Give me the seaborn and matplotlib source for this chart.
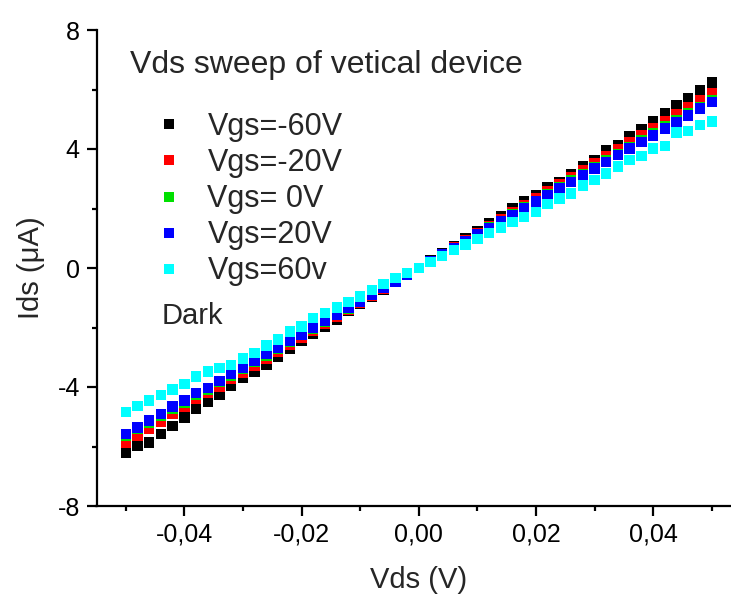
import numpy as np
import pandas as pd
import matplotlib
matplotlib.use("Agg")
import matplotlib.pyplot as plt
from matplotlib.lines import Line2D
from matplotlib.ticker import MultipleLocator, FixedLocator
import seaborn as sns

# ---------------- data ----------------
vds = [-0.050, -0.048, -0.046, -0.044, -0.042, -0.040, -0.038, -0.036, -0.034, -0.032,
       -0.030, -0.028, -0.026, -0.024, -0.022, -0.020, -0.018, -0.016, -0.014, -0.012,
       -0.010, -0.008, -0.006, -0.004, -0.002, 0.000,
       0.002, 0.004, 0.006, 0.008, 0.010, 0.012, 0.014, 0.016, 0.018, 0.020,
       0.022, 0.024, 0.026, 0.028, 0.030, 0.032, 0.034, 0.036, 0.038, 0.040,
       0.042, 0.044, 0.046, 0.048, 0.050]

ids_m60 = [-6.21, -5.98, -5.87, -5.58, -5.31, -5.02, -4.74, -4.49, -4.25, -3.97,
           -3.69, -3.49, -3.24, -2.98, -2.73, -2.44, -2.20, -1.97, -1.73, -1.43,
           -1.21, -0.96, -0.72, -0.47, -0.24, 0.00,
           0.25, 0.49, 0.74, 0.99, 1.24, 1.49, 1.74, 2.01, 2.23, 2.45,
           2.70, 2.90, 3.15, 3.41, 3.63, 3.97, 4.13, 4.44, 4.67, 4.94,
           5.20, 5.46, 5.72, 5.98, 6.23]

ids_m20 = [-5.86, -5.65, -5.39, -5.17, -4.91, -4.68, -4.40, -4.19, -3.98, -3.74,
           -3.52, -3.29, -3.05, -2.82, -2.58, -2.35, -2.11, -1.88, -1.64, -1.41,
           -1.17, -0.94, -0.70, -0.47, -0.23, 0.00,
           0.23, 0.47, 0.70, 0.94, 1.17, 1.41, 1.64, 1.88, 2.11, 2.35,
           2.58, 2.82, 3.05, 3.29, 3.52, 3.76, 3.99, 4.23, 4.46, 4.70,
           4.93, 5.17, 5.40, 5.64, 5.88]

ids_0 = [-5.65, -5.42, -5.20, -4.97, -4.72, -4.52, -4.27, -4.08, -3.84, -3.62,
         -3.39, -3.16, -2.94, -2.71, -2.49, -2.26, -2.03, -1.81, -1.58, -1.36,
         -1.13, -0.90, -0.68, -0.45, -0.23, 0.00,
         0.23, 0.45, 0.68, 0.90, 1.13, 1.36, 1.58, 1.81, 2.03, 2.26,
         2.49, 2.71, 2.94, 3.16, 3.39, 3.62, 3.84, 4.07, 4.29, 4.52,
         4.75, 4.97, 5.20, 5.42, 5.65]

ids_p20 = [-5.58, -5.36, -5.13, -4.91, -4.66, -4.46, -4.21, -4.04, -3.80, -3.57,
           -3.35, -3.13, -2.90, -2.68, -2.46, -2.23, -2.01, -1.79, -1.56, -1.34,
           -1.12, -0.89, -0.67, -0.45, -0.22, 0.00,
           0.22, 0.45, 0.67, 0.89, 1.12, 1.34, 1.56, 1.79, 2.01, 2.23,
           2.46, 2.68, 2.90, 3.13, 3.35, 3.57, 3.80, 4.02, 4.24, 4.46,
           4.69, 4.91, 5.13, 5.36, 5.58]

ids_p60 = [-4.85, -4.64, -4.46, -4.27, -4.08, -3.90, -3.65, -3.48, -3.37, -3.26,
           -3.04, -2.85, -2.61, -2.40, -2.14, -1.97, -1.69, -1.52, -1.33, -1.15,
           -0.96, -0.74, -0.54, -0.33, -0.17, 0.01,
           0.20, 0.40, 0.60, 0.79, 0.98, 1.17, 1.36, 1.54, 1.72, 1.89,
           2.15, 2.34, 2.51, 2.77, 2.96, 3.18, 3.41, 3.63, 3.77, 4.02,
           4.11, 4.55, 4.61, 4.81, 4.92]

series_labels = ["Vgs=-60V", "Vgs=-20V", "Vgs= 0V", "Vgs=20V", "Vgs=60v"]
series_colors = ["#000000", "#ff0000", "#00e000", "#0000ff", "#00ffff"]
series_values = [ids_m60, ids_m20, ids_0, ids_p20, ids_p60]

x_ticks = [-0.04, -0.02, 0.00, 0.02, 0.04]
x_tick_labels = ["-0,04", "-0,02", "0,00", "0,02", "0,04"]
y_ticks = [-8, -4, 0, 4, 8]
y_tick_labels = ["-8", "-4", "0", "4", "8"]

title_text = "Vds sweep of vetical device"
dark_text = "Dark"

# ---------------- table ----------------
frames = []
for lab, vals in zip(series_labels, series_values):
    frames.append(pd.DataFrame({"Vds": vds, "Ids": vals, "Vgs": lab}))
df = pd.concat(frames, ignore_index=True)

# ---------------- plot ----------------
sns.set_theme(style="ticks")
plt.rcParams["font.family"] = ["Liberation Sans", "DejaVu Sans"]

W, H = 731, 597
fig = plt.figure(figsize=(W / 100, H / 100), dpi=100)
fig.patch.set_facecolor("white")
left_px, right_px, top_px, bottom_px = 96.5, 741.0, 30.0, 506.0
ax = fig.add_axes([left_px / W, 1 - bottom_px / H,
                   (right_px - left_px) / W, (bottom_px - top_px) / H])
ax.set_facecolor("white")

palette = dict(zip(series_labels, series_colors))
sns.scatterplot(data=df, x="Vds", y="Ids", hue="Vgs", palette=palette,
                marker="s", s=56, linewidth=0, ax=ax, legend=False)

ax.set_xlim(-0.055, 0.055)
ax.set_ylim(-8, 8)
ax.xaxis.set_major_locator(FixedLocator(x_ticks))
ax.set_xticklabels(x_tick_labels)
ax.xaxis.set_minor_locator(MultipleLocator(0.01))
ax.yaxis.set_major_locator(FixedLocator(y_ticks))
ax.set_yticklabels(y_tick_labels)
ax.yaxis.set_minor_locator(MultipleLocator(2))

for s in ["top", "right"]:
    ax.spines[s].set_visible(False)
for s in ["left", "bottom"]:
    ax.spines[s].set_linewidth(1.6)
    ax.spines[s].set_color("black")
ax.tick_params(which="major", direction="out", length=7, width=1.6,
               labelsize=18, colors="black", pad=5)
ax.tick_params(which="minor", direction="out", length=3.5, width=1.6, colors="black")

ax.set_xlabel("Vds (V)", fontsize=21, labelpad=14)
ax.set_ylabel("Ids (\u03bcA)", fontsize=21, labelpad=9)

fig.text(130 / W, 1 - 65 / H, title_text, fontsize=23, ha="left", va="center")

handles = [Line2D([], [], marker="s", linestyle="none", markersize=7.2,
                  markerfacecolor=c, markeredgewidth=0) for c in series_colors]
leg = ax.legend(handles, series_labels, loc="upper left",
                bbox_to_anchor=(157 / W, 1 - 112 / H), bbox_transform=fig.transFigure,
                frameon=False, fontsize=22, handlelength=0.8, handletextpad=0.85,
                labelspacing=0.2, borderpad=0, borderaxespad=0)

fig.text(162 / W, 1 - 316 / H, dark_text, fontsize=21, ha="left", va="center")

fig.savefig("out.png", dpi=100, facecolor="white")
